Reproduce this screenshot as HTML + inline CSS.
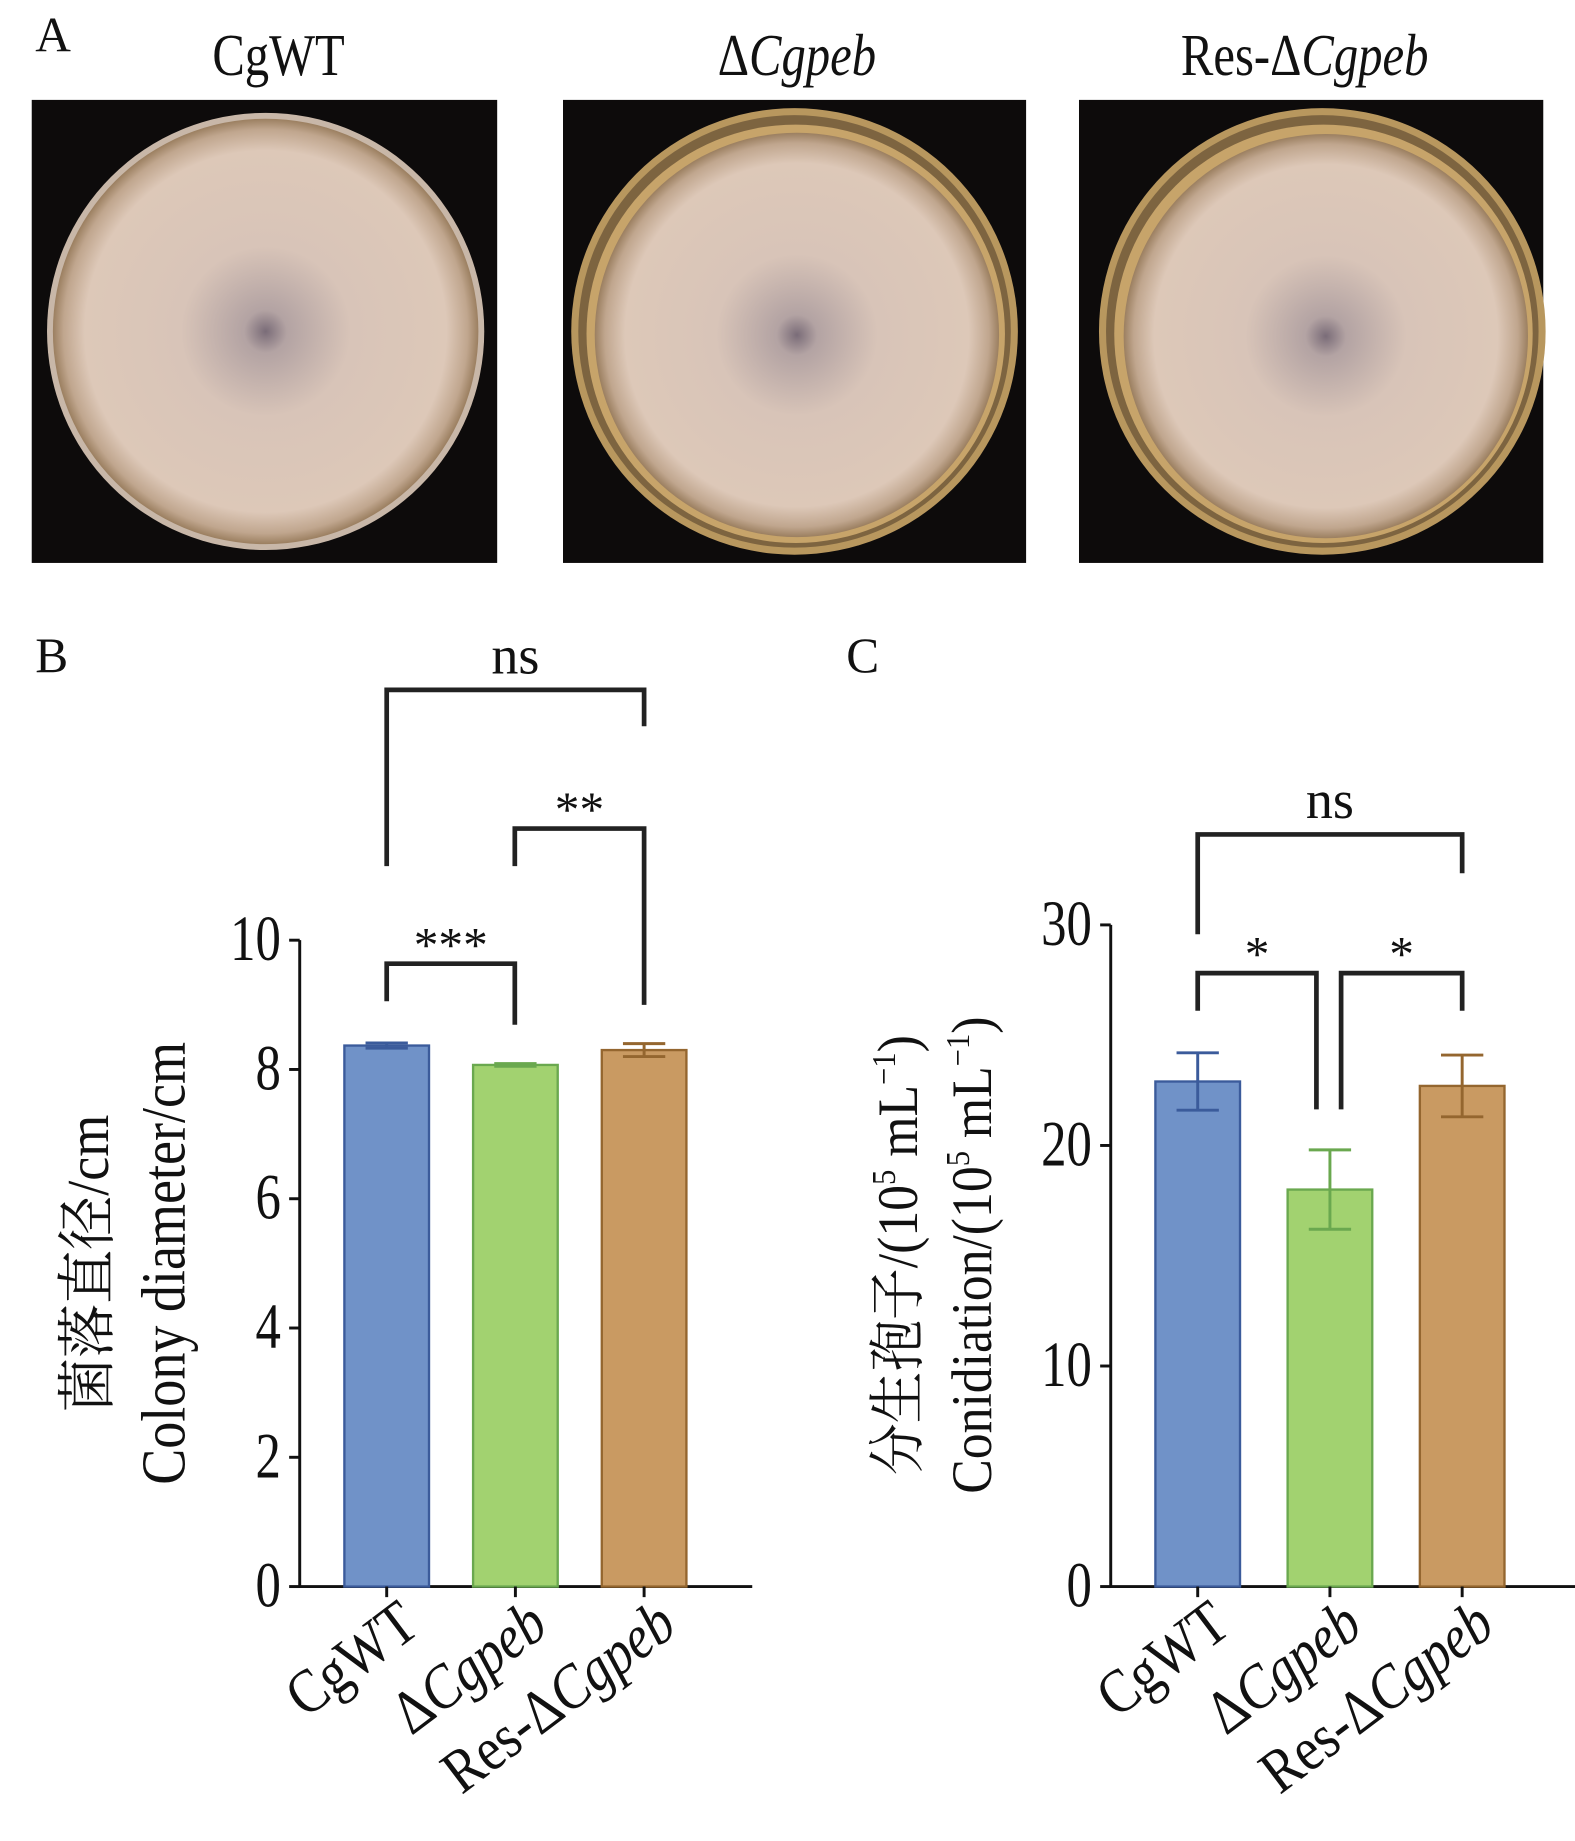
<!DOCTYPE html>
<html><head><meta charset="utf-8"><style>
html,body{margin:0;padding:0;background:#fff;}
svg{display:block;}
text{font-family:"Liberation Serif","Noto Serif CJK SC",serif;fill:#111;}
</style></head><body>
<svg id="fig" width="1575" height="1841" viewBox="0 0 1340 1566.5" preserveAspectRatio="none">
<defs>
<radialGradient id="col" cx="50%" cy="50%" r="50%">
<stop offset="0" stop-color="#7a6c78"/>
<stop offset="0.1" stop-color="#b3a3a3"/>
<stop offset="0.4" stop-color="#d8c4b8"/>
<stop offset="0.85" stop-color="#ddc8b8"/>
<stop offset="0.95" stop-color="#c0a68e"/>
<stop offset="1" stop-color="#9b7f60"/>
</radialGradient>
</defs>
<text x="30" y="44" font-size="42">A</text>
<text transform="translate(237,64) scale(0.9,1.1)" font-size="46" text-anchor="middle">CgWT</text>
<text transform="translate(678,64) scale(0.9,1.1)" font-size="46" text-anchor="middle">Δ<tspan font-style="italic">Cgpeb</tspan></text>
<text transform="translate(1110,64) scale(0.9,1.1)" font-size="46" text-anchor="middle">Res-Δ<tspan font-style="italic">Cgpeb</tspan></text>
<g>
<rect x="27" y="85" width="396" height="394" fill="#0d0b0b"/>
<circle cx="226" cy="282" r="186" fill="#c8b7a8"/>
<circle cx="226" cy="282" r="181" fill="url(#col)"/></g>
<g>
<rect x="479" y="85" width="394" height="394" fill="#0d0b0b"/>
<circle cx="676" cy="282" r="190" fill="#b8975e"/>
<circle cx="676" cy="282" r="184" fill="#7d6440"/>
<circle cx="677" cy="284" r="178" fill="#c7a46a"/>
<circle cx="678" cy="285" r="172" fill="url(#col)"/></g>
<g>
<rect x="918" y="85" width="395" height="394" fill="#0d0b0b"/>
<circle cx="1125" cy="282" r="190" fill="#b8975e"/>
<circle cx="1125" cy="282" r="184" fill="#7d6440"/>
<circle cx="1126" cy="284" r="178" fill="#c7a46a"/>
<circle cx="1128" cy="286" r="172" fill="url(#col)"/></g>

<text x="30" y="572" font-size="42">B</text>
<text x="720" y="572" font-size="42">C</text>
<g id="chartB"></g>
<g id="chartC"></g>
<text transform="translate(92,1075) rotate(-90) scale(1,1.1)" font-size="46" text-anchor="middle">菌落直径/cm</text>
<text transform="translate(157,1075) rotate(-90) scale(1,1.15)" font-size="46" text-anchor="middle">Colony diameter/cm</text>
<text transform="translate(780,1068) rotate(-90) scale(1,1.1)" font-size="44" text-anchor="middle">分生孢子/(10<tspan font-size="26" dy="-17">5</tspan><tspan dy="17"> mL</tspan><tspan font-size="26" dy="-17">−1</tspan><tspan dy="17">)</tspan></text>
<text transform="translate(843,1068) rotate(-90) scale(1,1.1)" font-size="44" text-anchor="middle">Conidiation/(10<tspan font-size="26" dy="-17">5</tspan><tspan dy="17"> mL</tspan><tspan font-size="26" dy="-17">−1</tspan><tspan dy="17">)</tspan></text>
</svg>
<script>
const NS="http://www.w3.org/2000/svg";
const categories=["CgWT","ΔCgpeb","Res-ΔCgpeb"];
const diameterValues=[8.37,8.07,8.3];
const diameterErrors=[0.04,0.02,0.1];
const diameterTicks=[0,2,4,6,8,10];
const conidiaValues=[22.9,18.0,22.7];
const conidiaErrors=[1.3,1.8,1.4];
const conidiaTicks=[0,10,20,30];
const fills=["#7092c8","#a2d270","#c99a62"];
const strokes=["#3b5b9b","#6aa84f","#94662f"];
function el(p,t,a){const e=document.createElementNS(NS,t);for(const k in a)e.setAttribute(k,a[k]);p.appendChild(e);return e;}
function chart(g,o){
  const y=v=>o.y0-(v-0)/(o.max)*(o.y0-o.yTop);
  const x=i=>o.x0+o.first+i*o.step;
  const ax=el(g,"path",{d:`M${o.x0},${o.yTop}V${o.y0}H${o.xEnd}`,stroke:"#111","stroke-width":2.5,fill:"none"});
  
  
  o.ticks.forEach(t=>{
    const l=el(g,"line",{x1:o.x0-9,x2:o.x0,y1:y(t),y2:y(t),stroke:"#111","stroke-width":2.5});
    
    
    const tx=el(g,"text",{transform:`translate(${o.x0-16},${y(t)+17}) scale(0.9,1.15)`,"font-size":48,"text-anchor":"end"});
    tx.textContent=t;
    
    
  });
  o.vals.forEach((v,i)=>{
    const cx=x(i),w=72;
    const r=el(g,"rect",{x:cx-w/2,y:y(v),width:w,height:o.y0-y(v),fill:fills[i],stroke:strokes[i],"stroke-width":2});
    
    
    const e=o.errs[i];
    const eb=el(g,"path",{d:`M${cx},${y(v+e)}V${y(v-e)}M${cx-18},${y(v+e)}H${cx+18}M${cx-18},${y(v-e)}H${cx+18}`,stroke:strokes[i],"stroke-width":2.5,fill:"none"});
    
    
    const tk=el(g,"line",{x1:cx,x2:cx,y1:o.y0,y2:o.y0+9,stroke:"#111","stroke-width":2.5});
    
    
    const lb=el(g,"text",{transform:`translate(${cx+30},${o.y0+38}) rotate(-37) scale(0.95,1.1)`,"font-size":48,"text-anchor":"end"});
    
    
    const c=categories[i];
    if(c.indexOf("Cgpeb")>=0){const pre=c.replace("Cgpeb","");lb.appendChild(document.createTextNode(pre));const ts=el(lb,"tspan",{"font-style":"italic"});ts.textContent="Cgpeb";}
    else lb.textContent=c;
  });
  o.brackets.forEach(b=>{
    const p=el(g,"path",{d:`M${b[0]},${b[3]}V${b[2]}H${b[1]}V${b[4]}`,stroke:"#222","stroke-width":4,fill:"none"});
    
    
    const t=el(g,"text",{x:(b[0]+b[1])/2,y:b[2]-(b[5]=="ns"?14:2),"font-size":b[5]=="ns"?46:42,"text-anchor":"middle"});
    t.textContent=b[5];
    
    
  });
}
chart(document.getElementById("chartB"),{x0:255,xEnd:640,y0:1350,yTop:800,max:10,first:74,step:109.5,vals:diameterValues,errs:diameterErrors,ticks:diameterTicks,
  brackets:[[329,438,820,852,872,"***"],[438,548,705,737,855,"**"],[329,548,587,737,618,"ns"]]});
chart(document.getElementById("chartC"),{x0:945,xEnd:1340,y0:1350,yTop:787,max:30,first:74,step:112.5,vals:conidiaValues,errs:conidiaErrors,ticks:conidiaTicks,
  brackets:[[1019,1120,828,860,944,"*"],[1141,1244,828,944,860,"*"],[1019,1244,710,795,743,"ns"]]});
</script>
</body></html>
